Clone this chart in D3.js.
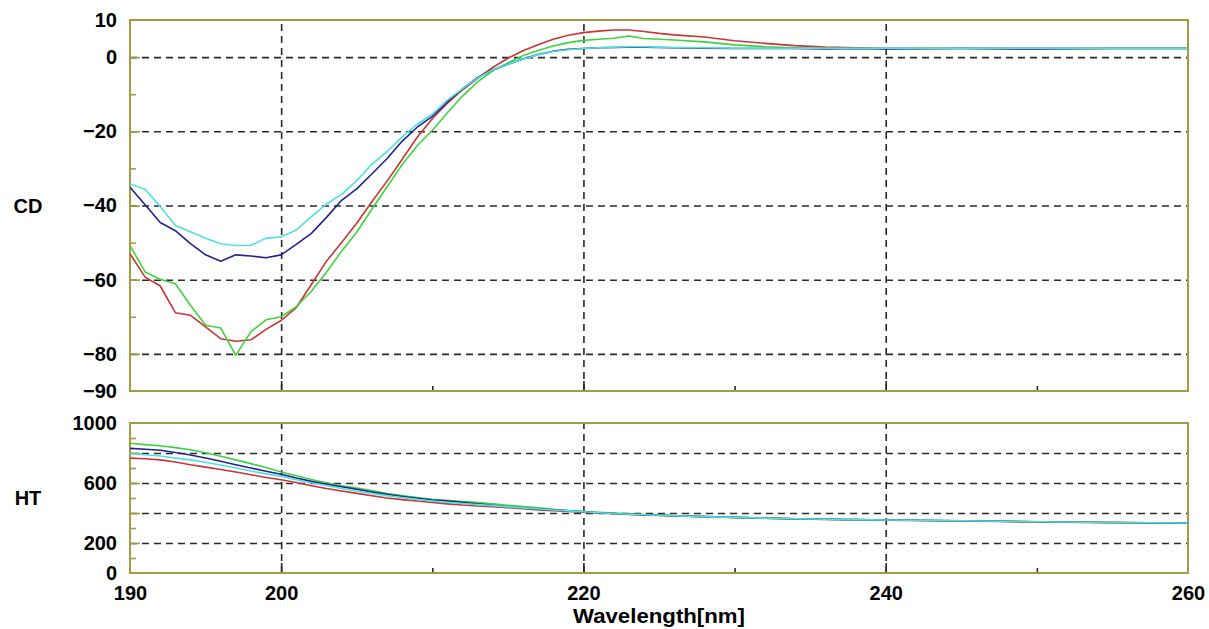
<!DOCTYPE html>
<html>
<head>
<meta charset="utf-8">
<script src="https://cdn.jsdelivr.net/npm/d3@7"></script>
<style>
  html, body { margin: 0; padding: 0; background: #ffffff; }
  svg { display: block; }
  text { font-family: "Liberation Sans", Arial, sans-serif; font-weight: bold; fill: #000; }
</style>
</head>
<body>
<svg id="chart" width="1209" height="629"></svg>
<script>
// ---------- data ----------
const wavelengths = [190,191,192,193,194,195,196,197,198,199,200,201,202,203,204,205,206,207,208,209,
  210,211,212,213,214,215,216,217,218,219,220,221,222,223,224,225,226,228,230,232,234,236,238,240,245,250,255,260];

const cdRed = [-53.0,-59.3,-61.7,-68.9,-69.6,-72.7,-75.9,-76.6,-76.2,-73.4,-71.0,-67.5,-61.3,-55.0,-50.0,-44.8,-39.0,-33.5,-27.6,-21.6,
  -16.6,-12.4,-8.8,-5.7,-2.8,-0.3,1.7,3.3,4.8,5.9,6.6,7.0,7.3,7.3,6.9,6.4,6.0,5.4,4.4,3.7,3.1,2.7,2.5,2.4,2.4,2.4,2.4,2.4];
const cdGreen = [-50.8,-57.9,-59.9,-61.1,-66.9,-72.3,-73.0,-80.4,-74.0,-70.8,-70.0,-67.3,-63.1,-58.0,-52.3,-47.2,-41.0,-35.0,-29.0,-23.9,
  -19.8,-15.0,-10.5,-6.7,-3.7,-1.6,0.4,1.8,3.0,3.9,4.5,4.8,5.1,5.7,5.0,4.8,4.6,4.1,3.3,2.8,2.5,2.4,2.3,2.3,2.3,2.3,2.3,2.3];
const cdBlue = [-35.1,-39.8,-44.6,-46.8,-50.3,-53.3,-55.0,-53.3,-53.6,-54.1,-53.3,-50.5,-47.5,-43.2,-38.6,-35.5,-31.5,-27.4,-22.7,-18.9,
  -16.0,-12.0,-8.6,-5.5,-3.5,-1.9,-0.5,0.7,1.6,2.1,2.3,2.5,2.6,2.7,2.7,2.6,2.5,2.4,2.3,2.3,2.3,2.2,2.3,2.2,2.3,2.2,2.3,2.3];
const cdCyan = [-34.2,-35.6,-40.3,-45.4,-47.1,-48.8,-50.3,-50.8,-50.7,-48.8,-48.5,-46.6,-43.0,-39.6,-37.0,-33.3,-28.9,-25.5,-21.5,-18.1,
  -15.4,-11.6,-8.5,-5.6,-3.5,-1.9,-0.6,0.6,1.5,2.0,2.3,2.5,2.7,2.8,2.8,2.7,2.6,2.5,2.4,2.4,2.4,2.4,2.4,2.4,2.4,2.4,2.4,2.4];

const htRed = [766,762,754,740,722,706,690,673,655,637,622,603,582,563,547,531,515,500,489,480,
  470,461,453,447,442,436,428,421,415,410,405,400,395,390,387,384,381,375,370,365,361,357,355,352,347,341,336,332];
const htGreen = [865,856,848,836,822,802,778,754,729,703,674,648,623,602,582,566,549,530,516,503,
  492,484,476,469,462,452,443,434,425,417,410,404,399,394,390,386,382,376,371,366,362,358,356,353,348,342,337,333];
const htBlue = [831,825,818,803,787,767,745,722,700,678,658,633,611,592,575,558,540,524,510,498,
  487,479,472,462,452,442,434,427,421,414,408,402,397,392,388,385,382,376,371,366,362,358,356,353,348,342,337,333];
const htCyan = [795,788,780,766,754,738,720,700,680,661,646,622,600,583,563,545,530,516,503,491,
  480,471,463,456,449,441,434,427,420,414,408,402,397,392,388,385,382,376,371,366,362,358,356,353,348,342,337,333];

const seriesNames = ["red", "green", "blue", "cyan"];
const seriesColors = ["#cc3333", "#3ed33e", "#23238f", "#4fe0e0"];

const xTickLabels = [190, 200, 220, 240, 260];
const xGridTicks = [200, 220, 240];
const xMinorTicks = [210, 230, 250];
const cdTickLabels = [10, 0, -20, -40, -60, -80, -90];
const cdGridTicks = [0, -20, -40, -60, -80];
const cdMinorTicks = [-10, -30, -50, -70];
const htTickLabels = [1000, 600, 200, 0];
const htGridTicks = [200, 400, 600, 800];
const htMinorTicks = [100, 300, 500, 700, 900];

// ---------- layout ----------
const svg = d3.select("#chart");
const left = 130, right = 1188;
const cdTop = 20, cdBottom = 391;
const htTop = 423, htBottom = 573;
const frameColor = "#a29c42";
const gridColor = "#2a2a2a";
const fontSize = 20;

const x = d3.scaleLinear().domain([190, 260]).range([left, right]);
const yCD = d3.scaleLinear().domain([-90, 10]).range([cdBottom, cdTop]);
const yHT = d3.scaleLinear().domain([0, 1000]).range([htBottom, htTop]);

function panel(y, top, bottom, gridTicks, minorTicks, labelTicks, series, name, nameY) {
  const g = svg.append("g");
  // horizontal dashed grid
  const hg = g.append("g").attr("transform", `translate(${left},0)`)
    .call(d3.axisLeft(y).tickValues(gridTicks).tickSize(-(right - left)).tickFormat(""));
  hg.select(".domain").remove();
  hg.selectAll("line").attr("stroke", gridColor).attr("stroke-width", 1.6).attr("stroke-dasharray", "7,5");
  // vertical dashed grid
  const vg = g.append("g").attr("transform", `translate(0,${bottom})`)
    .call(d3.axisBottom(x).tickValues(xGridTicks).tickSize(-(bottom - top)).tickFormat(""));
  vg.select(".domain").remove();
  vg.selectAll("line").attr("stroke", gridColor).attr("stroke-width", 1.6).attr("stroke-dasharray", "7,5");

  // inward ticks on left axis
  const maj = g.append("g").attr("transform", `translate(${left},0)`)
    .call(d3.axisLeft(y).tickValues(gridTicks).tickSize(-10).tickFormat(""));
  maj.select(".domain").remove();
  maj.selectAll("line").attr("stroke", frameColor).attr("stroke-width", 1.6);
  const mnr = g.append("g").attr("transform", `translate(${left},0)`)
    .call(d3.axisLeft(y).tickValues(minorTicks).tickSize(-6).tickFormat(""));
  mnr.select(".domain").remove();
  mnr.selectAll("line").attr("stroke", frameColor).attr("stroke-width", 1.6);
  // inward ticks on bottom axis
  const bmaj = g.append("g").attr("transform", `translate(0,${bottom})`)
    .call(d3.axisBottom(x).tickValues(xGridTicks).tickSize(-10).tickFormat(""));
  bmaj.select(".domain").remove();
  bmaj.selectAll("line").attr("stroke", gridColor).attr("stroke-width", 1.6);
  const bmin = g.append("g").attr("transform", `translate(0,${bottom})`)
    .call(d3.axisBottom(x).tickValues(xMinorTicks).tickSize(-5).tickFormat(""));
  bmin.select(".domain").remove();
  bmin.selectAll("line").attr("stroke", gridColor).attr("stroke-width", 1.6);

  // frame
  g.append("rect").attr("x", left).attr("y", top).attr("width", right - left).attr("height", bottom - top)
    .attr("fill", "none").attr("stroke", frameColor).attr("stroke-width", 2);

  // tick labels
  const lab = g.append("g").attr("transform", `translate(${left},0)`)
    .call(d3.axisLeft(y).tickValues(labelTicks).tickSize(0).tickPadding(13).tickFormat(d3.format("d")));
  lab.select(".domain").remove();
  lab.selectAll("text").attr("font-size", fontSize).attr("font-family", "Liberation Sans, Arial, sans-serif")
    .attr("font-weight", "bold").attr("fill", "#000");

  // lines
  const clipId = "clip-" + name;
  svg.append("clipPath").attr("id", clipId).append("rect")
    .attr("x", left).attr("y", top).attr("width", right - left).attr("height", bottom - top);
  const lineGen = d3.line().x((d, i) => x(wavelengths[i])).y(d => y(d));
  const lg = g.append("g").attr("clip-path", `url(#${clipId})`);
  series.forEach((s, i) => {
    lg.append("path").datum(s).attr("d", lineGen).attr("fill", "none")
      .attr("stroke", seriesColors[i]).attr("stroke-width", 1.6).attr("stroke-linejoin", "round");
  });

  // panel label
  svg.append("text").attr("x", 28).attr("y", nameY).attr("text-anchor", "middle")
    .attr("font-size", fontSize).text(name);
}

panel(yCD, cdTop, cdBottom, cdGridTicks, cdMinorTicks, cdTickLabels, [cdRed, cdGreen, cdBlue, cdCyan], "CD", 213);
panel(yHT, htTop, htBottom, htGridTicks, htMinorTicks, htTickLabels, [htRed, htGreen, htBlue, htCyan], "HT", 505);

// x tick labels
const xl = svg.append("g").attr("transform", `translate(0,${htBottom})`)
  .call(d3.axisBottom(x).tickValues(xTickLabels).tickSize(0).tickPadding(13).tickFormat(d3.format("d")));
xl.select(".domain").remove();
xl.selectAll("text").attr("font-size", fontSize).attr("font-family", "Liberation Sans, Arial, sans-serif")
  .attr("font-weight", "bold").attr("fill", "#000");

svg.append("text").attr("x", (left + right) / 2).attr("y", 623).attr("text-anchor", "middle")
  .attr("font-size", fontSize).attr("textLength", 172).attr("lengthAdjust", "spacingAndGlyphs")
  .text("Wavelength[nm]");
</script>
</body>
</html>
